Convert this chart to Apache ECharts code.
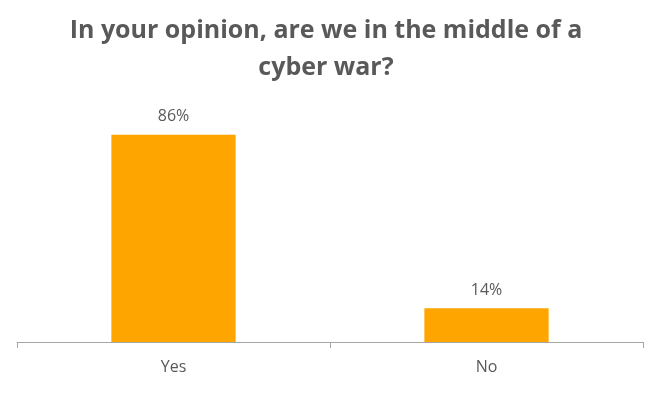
<!DOCTYPE html>
<html><head><meta charset="utf-8">
<script src="https://cdn.jsdelivr.net/npm/echarts@6/dist/echarts.min.js"></script>
<style>html,body{margin:0;padding:0;background:#fff}#c{width:652px;height:394px}</style>
</head><body><div id="c"></div>
<script>
const categories = ['Yes', 'No'];
const values = [86, 14];
const titleText = 'In your opinion, are we in the middle of a\ncyber war?';

const chart = echarts.init(document.getElementById('c'));
chart.setOption({
  animation: false,
  title: {
    text: titleText,
    left: 'center',
    top: 7,
    textStyle: { fontFamily: 'Open Sans', fontWeight: 'bold', fontSize: 25, color: '#595959', lineHeight: 37 }
  },
  grid: { left: 17, right: 9, top: 101, bottom: 52 },
  xAxis: {
    type: 'category',
    data: categories,
    axisLine: { lineStyle: { color: '#A6A6A6', width: 1 } },
    axisTick: { show: true, length: 6, lineStyle: { color: '#A6A6A6' } },
    axisLabel: { color: '#595959', fontSize: 16, fontFamily: 'Open Sans', margin: 17 }
  },
  yAxis: { type: 'value', min: 0, max: 100, show: false, splitLine: { show: false } },
  series: [{
    type: 'bar',
    data: values,
    barWidth: '39.7%',
    itemStyle: { color: '#FFA500' },
    label: { show: true, position: 'top', distance: 10, formatter: '{c}%', color: '#595959', fontSize: 16, fontFamily: 'Open Sans' }
  }]
});
</script></body></html>
